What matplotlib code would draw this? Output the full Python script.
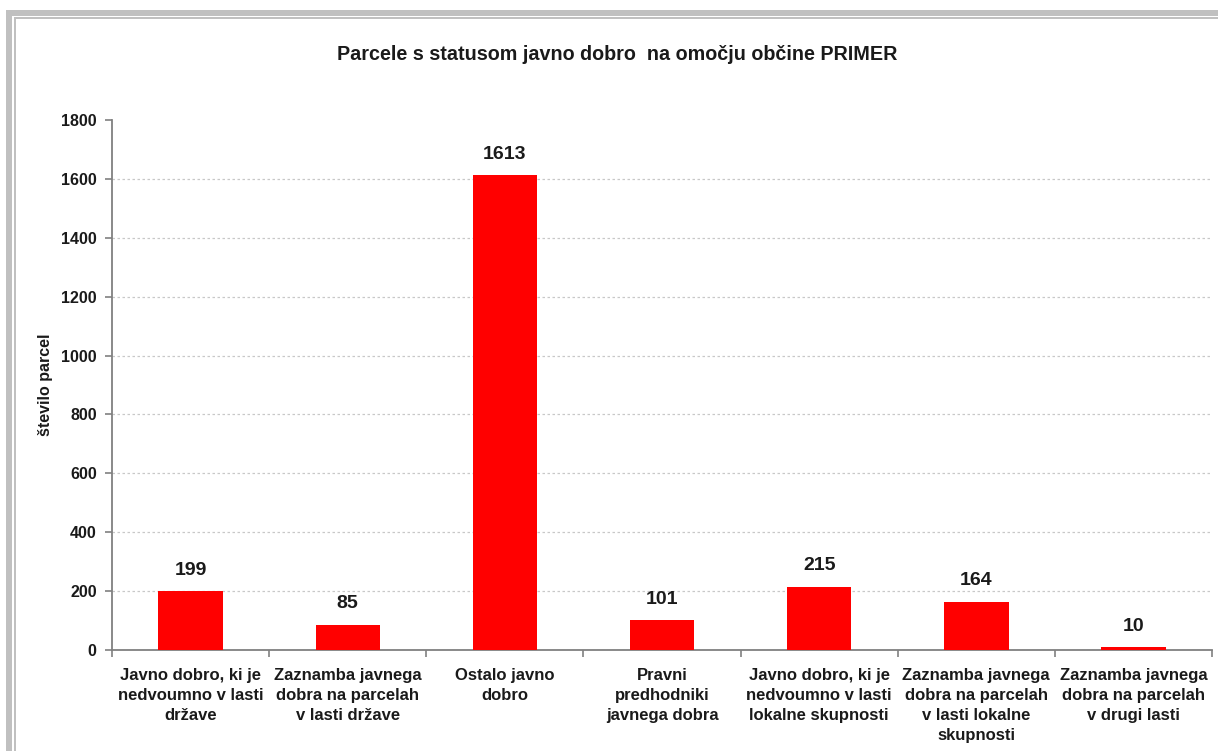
import matplotlib.pyplot as plt
from matplotlib.patches import Rectangle
import numpy as np

# podatki
kategorije = [
    "Javno dobro, ki je\nnedvoumno v lasti\ndržave",
    "Zaznamba javnega\ndobra na parcelah\nv lasti države",
    "Ostalo javno\ndobro",
    "Pravni\npredhodniki\njavnega dobra",
    "Javno dobro, ki je\nnedvoumno v lasti\nlokalne skupnosti",
    "Zaznamba javnega\ndobra na parcelah\nv lasti lokalne\nskupnosti",
    "Zaznamba javnega\ndobra na parcelah\nv drugi lasti",
]
stevilo = [199, 85, 1613, 101, 215, 164, 10]
y_ticks = [0, 200, 400, 600, 800, 1000, 1200, 1400, 1600, 1800]

W, H = 1218, 751
plt.rcParams['font.family'] = ['Liberation Sans', 'DejaVu Sans']
plt.rcParams['font.weight'] = 'bold'

fig = plt.figure(figsize=(W / 100, H / 100), dpi=100)
ax = fig.add_axes([112 / W, 1 - 650 / H, 1100 / W, 530 / H])

x = np.arange(len(stevilo))
ax.bar(x, stevilo, width=0.41, color='#ff0000', zorder=3)

for xi, v in zip(x, stevilo):
    ax.annotate(str(v), (xi, v), xytext=(0, 9), textcoords='offset points',
                ha='center', va='bottom', fontsize=14, fontweight='bold',
                color='#1a1a1a')

ax.set_xlim(-0.5, len(stevilo) - 0.5)
ax.set_ylim(0, 1800)
ax.set_yticks(y_ticks)
ax.set_yticklabels([str(t) for t in y_ticks], fontsize=11.5, fontweight='bold',
                   color='#1a1a1a')
ax.set_xticks(x)
ax.set_xticklabels(kategorije, fontsize=12, fontweight='bold', color='#1a1a1a',
                   linespacing=1.42)
ax.set_xticks(np.arange(len(stevilo) + 1) - 0.5, minor=True)
ax.tick_params(axis='x', which='major', length=0, pad=13)
ax.tick_params(axis='x', which='minor', length=5, direction='out',
               color='#808080', width=1.2)
ax.tick_params(axis='y', length=5, direction='out', color='#808080',
               width=1.2, pad=6)

ax.yaxis.grid(True, linestyle=(0, (2, 2)), color='#c8c8c8', linewidth=0.9,
              zorder=0)
ax.set_axisbelow(True)
for s in ['top', 'right']:
    ax.spines[s].set_visible(False)
for s in ['left', 'bottom']:
    ax.spines[s].set_color('#808080')
    ax.spines[s].set_linewidth(1.3)

ax.set_ylabel('število parcel', fontsize=11.5, fontweight='bold',
              color='#1a1a1a', labelpad=6)

fig.text(617 / W, 1 - 55 / H,
         'Parcele s statusom javno dobro  na omočju občine PRIMER',
         ha='center', va='center', fontsize=14.2, fontweight='bold',
         color='#1a1a1a')

fig.canvas.draw()
ax.yaxis.get_gridlines()[-1].set_visible(False)


# okvir
def px_rect(x0, y0, x1, y1):
    fig.add_artist(Rectangle((x0 / W, 1 - y1 / H), (x1 - x0) / W,
                             (y1 - y0) / H, transform=fig.transFigure,
                             facecolor='#c0c0c0', edgecolor='none'))


px_rect(6, 10, 12, H)
px_rect(6, 10, W, 16)
px_rect(13.5, 17.3, 15.5, H)
px_rect(13.5, 17.3, W, 19.3)

fig.savefig('out.png', dpi=100)
